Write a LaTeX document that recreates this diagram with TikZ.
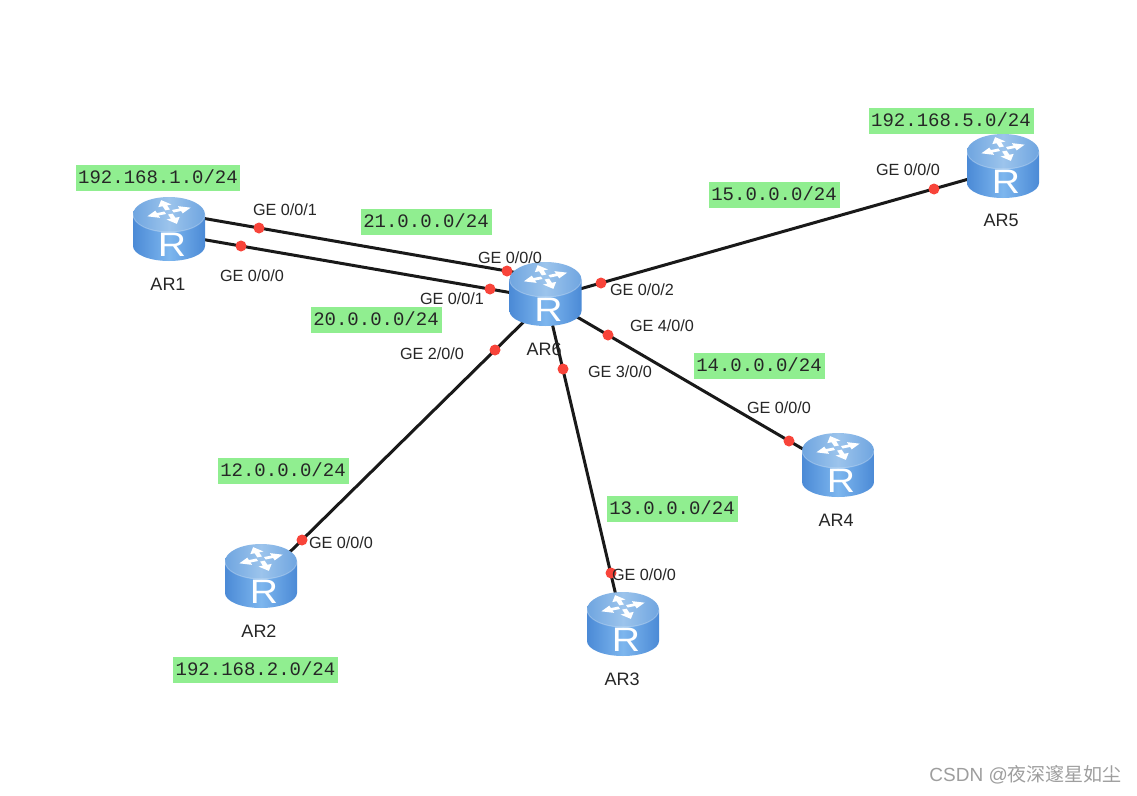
\documentclass[tikz,border=0pt]{standalone}
\usepackage{fontspec}
\setmainfont{Liberation Sans}
\setmonofont{Liberation Mono}
\newfontfamily\cjkfont{Noto Sans CJK SC}
\usetikzlibrary{backgrounds}
\definecolor{netgreen}{HTML}{90EE90}
\definecolor{dotred}{HTML}{F8443A}
\definecolor{bodyedge}{HTML}{4B8AD6}
\definecolor{bodymid}{HTML}{7DB6EE}
\definecolor{topedge}{HTML}{6FA5E0}
\definecolor{topmid}{HTML}{9CC4EC}
\tikzset{
  x=1pt,y=-1pt,
  routerbox/.style={minimum width=72pt,minimum height=64pt,inner sep=0pt},
  link/.style={draw=black!90,line width=3pt},
  portdot/.style={circle,fill=dotred,draw=none,minimum size=11pt,inner sep=0pt},
  iflabel/.style={font=\fontsize{16.2}{18}\selectfont,text=black!85,inner sep=0pt},
  namelabel/.style={font=\fontsize{18}{20}\selectfont,text=black!85,inner sep=0pt},
  netlabel/.style={fill=netgreen,font=\ttfamily\fontsize{19}{22}\selectfont,text=black!85,inner sep=0pt,text height=18pt,text depth=8pt},
}
\newcommand{\routerat}[3]{%
  \node[routerbox] (#1) at (#2,#3) {};
  \begin{scope}[shift={(#2,#3)}]
    \path[left color=bodyedge,right color=bodyedge,middle color=bodymid]
      (-36,-14.5) -- (-36,17) arc[start angle=180,end angle=360,x radius=36,y radius=-15] -- (36,-14.5) -- cycle;
    \path[left color=topedge,right color=topedge,middle color=topmid]
      (0,-14.5) ellipse[x radius=36,y radius=17.5];
    \draw[white,opacity=.25,line width=1pt] (-36,-14.5) arc[start angle=180,end angle=360,x radius=36,y radius=-17.5];
    \foreach \a in {20,110,200,290}{
      \begin{scope}[shift={(0,-17)},yscale=.55,rotate=\a]
        \fill[white] (4,-2.4) -- (12,-2.4) -- (12,-7) -- (23,0) -- (12,7) -- (12,2.4) -- (4,2.4) -- cycle;
      \end{scope}
    }
    \node[text=white,inner sep=0pt,font=\fontsize{34}{38}\selectfont,xscale=1.15] at (3,16) {R};
  \end{scope}}
\begin{document}
\begin{tikzpicture}
\useasboundingbox (0,0) rectangle (1137,795);
\routerat{ar1}{169}{229}
\routerat{ar2}{261}{576}
\routerat{ar3}{623}{624}
\routerat{ar4}{838}{465}
\routerat{ar5}{1003}{166}
\routerat{ar6}{545.5}{294}
\begin{pgfonlayer}{background}
  \fill[white] (0,0) rectangle (1137,795);
  \coordinate (a1u) at (190,216);
  \coordinate (a6u) at (530,275);
  \coordinate (a1l) at (190,237.2);
  \coordinate (a6l) at (530,296);
  \coordinate (a6b) at (535,310.7);
  \coordinate (a2t) at (282,559.7);
  \coordinate (a6c) at (549,310);
  \coordinate (a3t) at (617,600);
  \coordinate (a6d) at (560,307);
  \coordinate (a4t) at (820,459);
  \coordinate (a6e) at (560,294.6);
  \coordinate (a5t) at (990,173);
  \draw[link] (a1u) -- (a6u);
  \draw[link] (a1l) -- (a6l);
  \draw[link] (a6b) -- (a2t);
  \draw[link] (a6c) -- (a3t);
  \draw[link] (a6d) -- (a4t);
  \draw[link] (a6e) -- (a5t);
\end{pgfonlayer}
\node[portdot] (d1) at (259,228) {};
\node[portdot] (d2) at (241,246) {};
\node[portdot] (d3) at (507,271) {};
\node[portdot] (d4) at (490,289) {};
\node[portdot] (d5) at (601,283) {};
\node[portdot] (d6) at (608,335) {};
\node[portdot] (d7) at (563,369) {};
\node[portdot] (d8) at (495,350) {};
\node[portdot] (d9) at (302,540) {};
\node[portdot] (d10) at (611,573) {};
\node[portdot] (d11) at (789,441) {};
\node[portdot] (d12) at (934,189) {};
\node[iflabel] (i1) at (285,210) {GE 0/0/1};
\node[iflabel] (i2) at (252,276) {GE 0/0/0};
\node[iflabel] (i3) at (510,258) {GE 0/0/0};
\node[iflabel] (i4) at (452,299) {GE 0/0/1};
\node[iflabel] (i5) at (642,290) {GE 0/0/2};
\node[iflabel] (i6) at (662,326) {GE 4/0/0};
\node[iflabel] (i7) at (620,372) {GE 3/0/0};
\node[iflabel] (i8) at (432,354) {GE 2/0/0};
\node[iflabel] (i9) at (341,543) {GE 0/0/0};
\node[iflabel] (i10) at (644,575) {GE 0/0/0};
\node[iflabel] (i11) at (779,408) {GE 0/0/0};
\node[iflabel] (i12) at (908,170) {GE 0/0/0};
\node[namelabel] (n1) at (168,284) {AR1};
\node[namelabel] (n2) at (259,631) {AR2};
\node[namelabel] (n3) at (622,679) {AR3};
\node[namelabel] (n4) at (836,520) {AR4};
\node[namelabel] (n5) at (1001,220) {AR5};
\node[namelabel] (n6) at (544,349) {AR6};
\node[netlabel,minimum width=164pt] (g1) at (158,178) {192.168.1.0/24};
\node[netlabel,minimum width=165pt] (g2) at (255.5,670) {192.168.2.0/24};
\node[netlabel,minimum width=165pt] (g3) at (951,121) {192.168.5.0/24};
\node[netlabel,minimum width=131pt] (g4) at (426,222) {21.0.0.0/24};
\node[netlabel,minimum width=131pt] (g5) at (376,320) {20.0.0.0/24};
\node[netlabel,minimum width=131pt] (g6) at (774,195) {15.0.0.0/24};
\node[netlabel,minimum width=131pt] (g7) at (759,366) {14.0.0.0/24};
\node[netlabel,minimum width=131pt] (g8) at (283,471) {12.0.0.0/24};
\node[netlabel,minimum width=131pt] (g9) at (672,509) {13.0.0.0/24};
\node[inner sep=0pt,anchor=east,text=black!38,font=\fontsize{19}{21}\selectfont] (w) at (1122,775) {CSDN @{\cjkfont 夜深邃星如尘}};
\end{tikzpicture}
\end{document}
